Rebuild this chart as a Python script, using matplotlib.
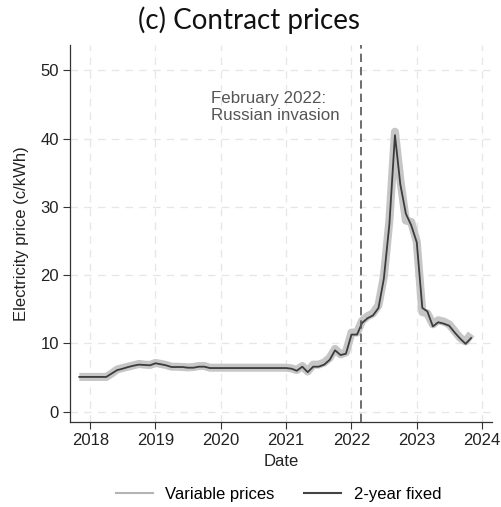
import matplotlib
matplotlib.use("Agg")
import matplotlib.pyplot as plt
import matplotlib.dates as mdates
from matplotlib.lines import Line2D
import pandas as pd

dates = pd.date_range("2017-11-01", "2023-11-01", freq="MS")

fixed_2y = [
    5.1, 5.1, 5.1, 5.1, 5.1, 5.1, 5.6, 6.1, 6.3, 6.55, 6.75, 6.9,   # Nov17-Oct18
    6.85, 6.8, 7.1, 6.95, 6.8, 6.55, 6.55, 6.55, 6.45, 6.45, 6.6, 6.6,  # Nov18-Oct19
    6.4, 6.4, 6.4, 6.4, 6.4, 6.4, 6.4, 6.4, 6.4, 6.4, 6.4, 6.4,   # Nov19-Oct20
    6.4, 6.4, 6.4, 6.3, 6.0, 6.6, 5.8, 6.6, 6.6, 6.9, 7.6, 9.0,   # Nov20-Oct21
    8.3, 8.5, 11.3, 11.3, 13.0, 13.7, 14.1, 15.2, 19.5, 27.5, 40.5, 33.3,  # Nov21-Oct22
    29.0, 27.3, 24.8, 15.2, 14.7, 12.5, 13.1, 12.9, 12.6, 11.6, 10.7, 9.95,  # Nov22-Oct23
    10.8,  # Nov23
]

variable = [
    5.1, 5.1, 5.1, 5.1, 5.1, 5.1, 5.6, 6.2, 6.4, 6.6, 6.8, 7.0,
    6.9, 6.85, 7.15, 7.0, 6.85, 6.6, 6.6, 6.55, 6.5, 6.55, 6.7, 6.7,
    6.45, 6.45, 6.45, 6.45, 6.45, 6.45, 6.45, 6.45, 6.45, 6.45, 6.45, 6.45,
    6.45, 6.45, 6.45, 6.35, 6.1, 6.7, 5.9, 6.9, 6.9, 7.2, 7.9, 9.2,
    8.4, 8.7, 11.6, 11.6, 13.3, 14.0, 14.4, 15.6, 19.8, 28.0, 41.0, 34.0,
    28.0, 27.8, 24.9, 14.6, 14.4, 12.8, 13.4, 13.2, 12.8, 11.8, 10.8, 10.3,
    11.4,
]

yticks = [0, 10, 20, 30, 40, 50]
xtick_years = [2018, 2019, 2020, 2021, 2022, 2023, 2024]
invasion_date = pd.Timestamp("2022-02-24")

fig = plt.figure(figsize=(5.01, 5.07), dpi=100)
ax = fig.add_axes([70 / 501, (507 - 422) / 507, (491.7 - 70) / 501, (422 - 45) / 507])

grid_kw = dict(color="#e6e6e6", linestyle=(0, (6, 5)), linewidth=0.9, zorder=0)
ax.set_axisbelow(True)
ax.grid(True, **grid_kw)

ax.plot(dates, variable, color="#c6c6c6", linewidth=5.8, solid_joinstyle="round",
        solid_capstyle="butt", zorder=2)
ax.plot(dates, fixed_2y, color="#3c3c3c", linewidth=1.3, zorder=3)

ax.axvline(invasion_date, color="#555555", linestyle=(0, (5, 3)), linewidth=1.2, zorder=4)
ax.text(pd.Timestamp("2019-11-08"), 44.6, "February 2022:\nRussian invasion",
        ha="left", va="center", fontsize=12.2, color="#555555",
        family="Liberation Sans", linespacing=1.2, multialignment="left")

ax.set_xlim(pd.Timestamp("2017-09-10"), pd.Timestamp("2024-02-24"))
ax.set_ylim(-1.5, 53.7)
ax.set_yticks(yticks)
ax.set_xticks([pd.Timestamp(f"{y}-01-01") for y in xtick_years])
ax.xaxis.set_major_formatter(mdates.DateFormatter("%Y"))

for s in ["top", "right"]:
    ax.spines[s].set_visible(False)
for s in ["left", "bottom"]:
    ax.spines[s].set_color("#333333")
    ax.spines[s].set_linewidth(0.9)
ax.tick_params(axis="both", direction="out", length=5, width=0.8, color="#333333",
               labelsize=12, labelcolor="#222222", pad=3)
for lab in ax.get_xticklabels() + ax.get_yticklabels():
    lab.set_family("Liberation Sans")

ax.set_xlabel("Date", fontsize=12, family="Liberation Sans", color="#222222", labelpad=4)
ax.set_ylabel("Electricity price (c/kWh)", fontsize=12, family="Liberation Sans",
              color="#222222", labelpad=8)

fig.text(0.497, 0.960, "(c) Contract prices", ha="center", va="center", fontsize=20,
         family="Lato", color="#111111")

handles = [Line2D([], [], color="#b4b4b4", linewidth=1.5),
           Line2D([], [], color="#444444", linewidth=1.5)]
fig.legend(handles, ["Variable prices", "2-year fixed"], loc="center",
           bbox_to_anchor=(0.556, 0.024), ncol=2, frameon=False,
           prop={"family": "Liberation Sans", "size": 12}, handlelength=2.2,
           columnspacing=1.8, handletextpad=0.75)

fig.savefig("out.png", dpi=100)
